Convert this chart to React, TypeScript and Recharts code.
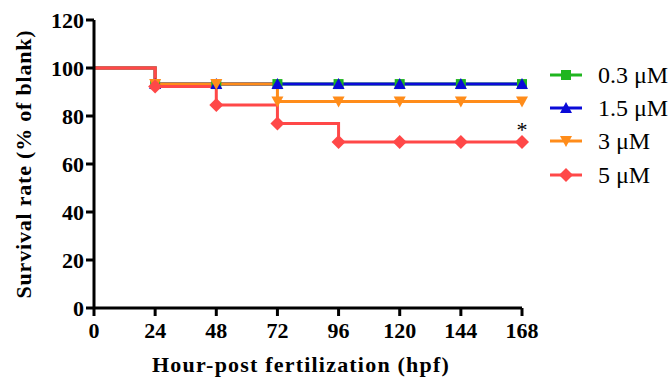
import React from "react";
import { LineChart, Line, XAxis, YAxis, Legend, ReferenceDot } from "recharts";

const hours = [0, 24, 48, 72, 96, 120, 144, 168];
const s03 = [100, 93.3, 93.3, 93.3, 93.3, 93.3, 93.3, 93.3];
const s15 = [100, 93.3, 93.3, 93.3, 93.3, 93.3, 93.3, 93.3];
const s3 = [100, 93.3, 93.3, 86, 86, 86, 86, 86];
const s5 = [100, 92.3, 84.6, 76.9, 69.2, 69.2, 69.2, 69.2];
const xTicks = [0, 24, 48, 72, 96, 120, 144, 168];
const yTicks = [0, 20, 40, 60, 80, 100, 120];

const seriesNames = ["0.3 μM", "1.5 μM", "3 μM", "5 μM"];
const seriesKeys = ["s03", "s15", "s3", "s5"];
const seriesColors = ["#1fb51f", "#0a0ad8", "#ff8c1a", "#ff4848"];
const seriesShapes = ["square", "up", "down", "diamond"];

const data = hours.map((h, i) => ({ h, s03: s03[i], s15: s15[i], s3: s3[i], s5: s5[i] }));

const FONT = "'Liberation Serif', 'Times New Roman', serif";

function Marker({ shape, cx, cy, color }: { shape: string; cx: number; cy: number; color: string }) {
  if (shape === "square") {
    return <rect x={cx - 5} y={cy - 5} width={10} height={10} fill={color} />;
  }
  if (shape === "up") {
    return <polygon points={`${cx},${cy - 6} ${cx + 6},${cy + 5} ${cx - 6},${cy + 5}`} fill={color} />;
  }
  if (shape === "down") {
    return <polygon points={`${cx},${cy + 6} ${cx + 6},${cy - 5} ${cx - 6},${cy - 5}`} fill={color} />;
  }
  return <polygon points={`${cx},${cy - 7} ${cx + 7},${cy} ${cx},${cy + 7} ${cx - 7},${cy}`} fill={color} />;
}

function makeDot(shape: string, color: string) {
  return (props: any) => {
    const { cx, cy, index } = props;
    if (index === 0 || cx == null || cy == null) return <g key={`d-${shape}-${index}`} />;
    return (
      <g key={`d-${shape}-${index}`}>
        <Marker shape={shape} cx={cx} cy={cy} color={color} />
      </g>
    );
  };
}

function LegendContent() {
  return (
    <div style={{ fontFamily: FONT, fontSize: 24, color: "#000", lineHeight: 1 }}>
      {seriesNames.map((n, i) => (
        <div key={n} style={{ display: "flex", alignItems: "center", height: 33.3 }}>
          <svg width={36} height={20} style={{ marginRight: 14 }}>
            <line x1={2} y1={10} x2={34} y2={10} stroke={seriesColors[i]} strokeWidth={3} />
            <Marker shape={seriesShapes[i]} cx={18} cy={10} color={seriesColors[i]} />
          </svg>
          <span>{n}</span>
        </div>
      ))}
    </div>
  );
}

export default function App() {
  const tickStyle = { fill: "#000", fontSize: 22, fontWeight: "bold" as const, fontFamily: FONT };
  const lastX = hours[hours.length - 1];
  const lastY = s5[s5.length - 1];
  return (
    <div style={{ position: "absolute", left: 0, top: 0, background: "#fff" }}>
      <LineChart width={671} height={381} data={data} margin={{ top: 20, right: 149, bottom: 0, left: 0 }}>
        <XAxis
          dataKey="h"
          type="number"
          domain={[0, 168]}
          ticks={xTicks}
          height={73}
          tickSize={8}
          tickMargin={6}
          tick={tickStyle}
          axisLine={{ stroke: "#000", strokeWidth: 3 }}
          tickLine={{ stroke: "#000", strokeWidth: 3 }}
          label={(p: any) => (
            <text
              x={301}
              y={372}
              textAnchor="middle"
              fontFamily={FONT}
              fontSize={22}
              fontWeight="bold"
              fill="#000"
              letterSpacing={1.2}
            >
              Hour-post fertilization (hpf)
            </text>
          )}
        />
        <YAxis
          type="number"
          domain={[0, 120]}
          ticks={yTicks}
          width={94}
          tickSize={8}
          tickMargin={2}
          tick={tickStyle}
          axisLine={{ stroke: "#000", strokeWidth: 3 }}
          tickLine={{ stroke: "#000", strokeWidth: 3 }}
          label={(p: any) => (
            <text
              x={23}
              y={164}
              transform="rotate(-90 23 164)"
              textAnchor="middle"
              dominantBaseline="central"
              fontFamily={FONT}
              fontSize={22}
              fontWeight="bold"
              fill="#000"
              letterSpacing={0.8}
            >
              Survival rate (% of blank)
            </text>
          )}
        />
        {seriesKeys.map((k, i) => (
          <Line
            key={k}
            type="stepAfter"
            dataKey={k}
            name={seriesNames[i]}
            stroke={seriesColors[i]}
            strokeWidth={3}
            dot={makeDot(seriesShapes[i], seriesColors[i])}
            activeDot={false}
            isAnimationActive={false}
          />
        ))}
        <ReferenceDot
          x={lastX}
          y={lastY}
          r={0}
          fill="none"
          stroke="none"
          label={(p: any) => {
            const vb = p.viewBox || {};
            const x = (vb.x ?? 0) + (vb.width ?? 0) / 2;
            const y = (vb.y ?? 0) + (vb.height ?? 0) / 2;
            return (
              <text x={x} y={y - 5} textAnchor="middle" fontFamily={FONT} fontSize={22} fill="#000">
                *
              </text>
            );
          }}
        />
        <Legend
          layout="vertical"
          align="center"
          verticalAlign="middle"
          content={() => <LegendContent />}
          wrapperStyle={{ left: 548, top: 58, width: 123 }}
        />
      </LineChart>
    </div>
  );
}
